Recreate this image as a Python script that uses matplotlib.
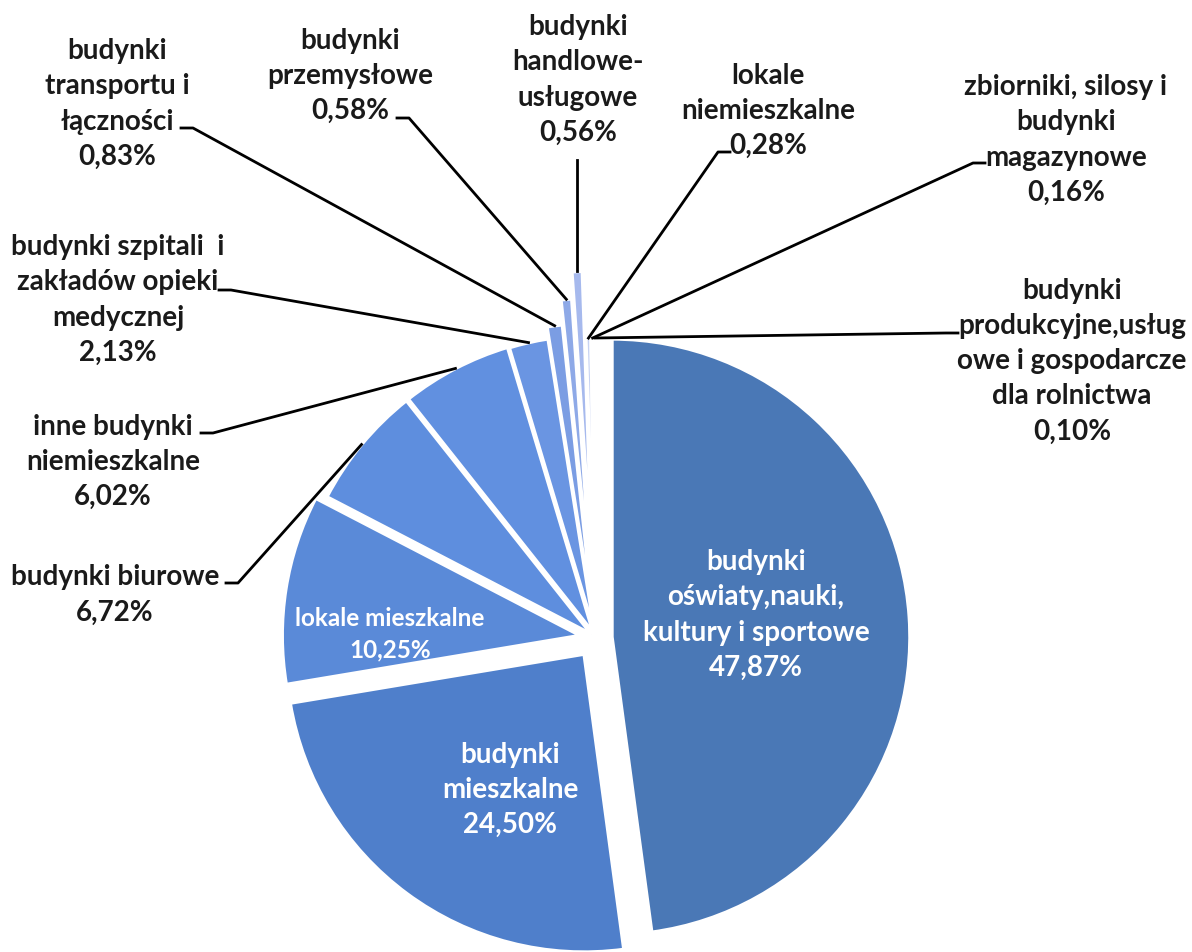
import matplotlib
matplotlib.use('Agg')
import matplotlib.pyplot as plt
import numpy as np

W, H = 1192, 952

# data (clockwise from 12 o'clock)
categories = [
    'budynki\noświaty,nauki,\nkultury i sportowe',
    'budynki\nmieszkalne',
    'lokale mieszkalne',
    'budynki biurowe',
    'inne budynki\nniemieszkalne',
    'budynki szpitali  i\nzakładów opieki\nmedycznej',
    'budynki\ntransportu i\nłączności',
    'budynki\nprzemysłowe',
    'budynki\nhandlowe-\nusługowe',
    'lokale\nniemieszkalne',
    'zbiorniki, silosy i\nbudynki\nmagazynowe',
    'budynki\nprodukcyjne,usług\nowe i gospodarcze\ndla rolnictwa',
]
shares = [47.87, 24.50, 10.25, 6.72, 6.02, 2.13, 0.83, 0.58, 0.56, 0.28, 0.16, 0.10]

# style
colors = ['#4a78b6', '#4f7fcb', '#5a8ad8', '#5e8ede', '#6190e0', '#6a95e2',
          '#7b9de3', '#8ea9e7', '#a6b9ed', '#c8d3f2', '#dce3f6', '#eaeef9']
explode_px = [16, 20, 16, 6, 6, 5, 17, 42, 69, 2, 2, 2]

def fmt(v):
    return ('%.2f%%' % v).replace('.', ',')

plt.rcParams['font.family'] = ['Lato', 'DejaVu Sans']

fig = plt.figure(figsize=(W / 100, H / 100), dpi=100)
ax = fig.add_axes([0, 0, 1, 1])

cx, cy, R = 596, H - 638, 298
wedges, _ = ax.pie(shares, colors=colors, explode=explode_px, startangle=90,
                   counterclock=False, center=(cx, cy), radius=R,
                   wedgeprops=dict(edgecolor='white', linewidth=2.5))
ax.set_xlim(0, W)
ax.set_ylim(0, H)
ax.set_aspect('auto')
ax.axis('off')

FS = 20
LS = 1.44

# labels inside slices: index -> (x, y, size) in image pixels
inside = {0: (756, 615, FS), 1: (510, 790, FS), 2: (390, 634, 17.5)}
for i, (x, y, fs) in inside.items():
    ax.text(x, H - y, categories[i] + '\n' + fmt(shares[i]), color='white',
            fontsize=fs, fontweight='bold', ha='center', va='center',
            linespacing=LS)

# outside labels: index -> (text x, text y, tick start x, tick y, tick dir)
outside = {
    3: (115, 595, 226, 583, 1),
    4: (113, 462, 201, 433, 1),
    5: (118, 300, 219, 290, 1),
    6: (117, 104, 181, 128, 1),
    7: (350, 76, 397, 118, 1),
    8: (578, 80, None, 160, 0),
    9: (768, 111, 730, 152, -1),
    10: (1066, 140, 985, 163, -1),
    11: (1072, 361, 958, 333, -1),
}
for i, (tx, ty, sx, sy, d) in outside.items():
    ax.text(tx, H - ty, categories[i] + '\n' + fmt(shares[i]), color='#1a1a1a',
            fontsize=FS, fontweight='bold', ha='center', va='center',
            linespacing=LS)
    w = wedges[i]
    th = np.deg2rad((w.theta1 + w.theta2) / 2)
    px = w.center[0] + w.r * np.cos(th)
    py = w.center[1] + w.r * np.sin(th)
    if sx is None:
        ax.plot([px, px], [H - sy, py], color='black', lw=2)
    else:
        ax.plot([sx, sx + 12 * d, px], [H - sy, H - sy, py], color='black', lw=2)

fig.savefig('out.png', dpi=100, facecolor='white')
